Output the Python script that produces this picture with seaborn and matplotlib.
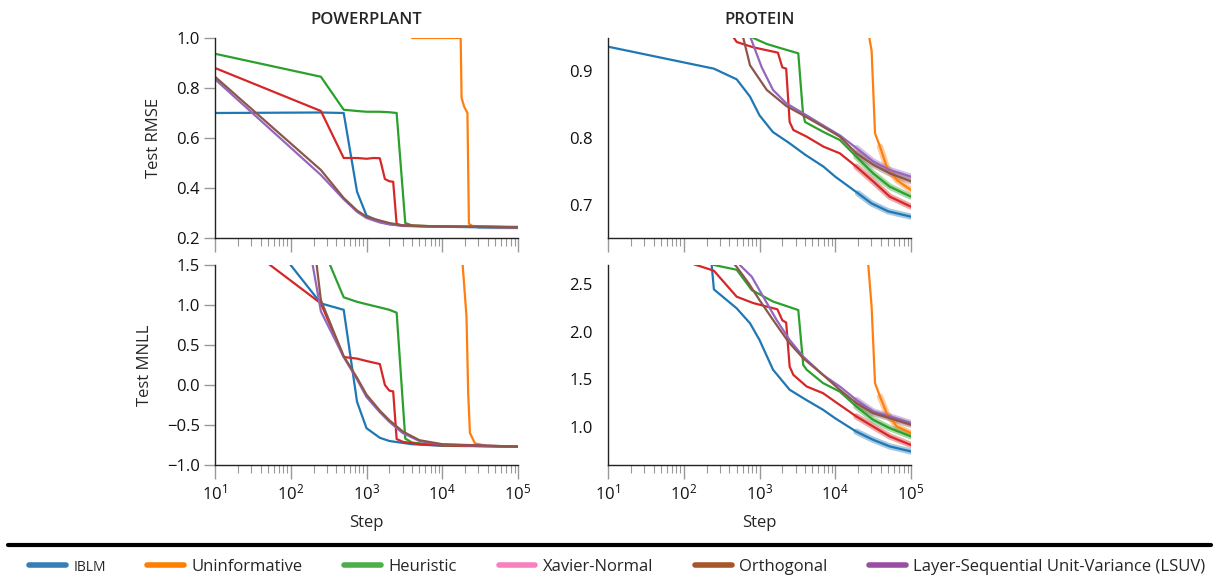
import numpy as np
import pandas as pd
import matplotlib.pyplot as plt
import seaborn as sns
from matplotlib.lines import Line2D

# Methods, in legend order
methods = ["IBLM", "Uninformative", "Heuristic", "Xavier-Normal", "Orthogonal",
           "Layer-Sequential Unit-Variance (LSUV)"]

# colours of the drawn curves (tab10) and of the legend swatches (Set1)
line_colors = {"IBLM": "#1f77b4", "Uninformative": "#ff7f0e", "Heuristic": "#2ca02c",
               "Xavier-Normal": "#d62728", "Orthogonal": "#8c564b",
               "Layer-Sequential Unit-Variance (LSUV)": "#9467bd"}
legend_colors = ["#377eb8", "#ff7f00", "#4daf4a", "#f781bf", "#a65628", "#984ea3"]
# draw order (later = on top)
draw_order = ["IBLM", "Uninformative", "Heuristic", "Xavier-Normal",
              "Layer-Sequential Unit-Variance (LSUV)", "Orthogonal"]

# ---------------- POWERPLANT, test RMSE ----------------
pp_rmse = {
    "IBLM": ([10, 250, 500, 750, 1000, 1500, 2000, 3000, 5000, 1e4, 3e4, 1e5],
             [0.70, 0.702, 0.70, 0.385, 0.29, 0.265, 0.255, 0.25, 0.247, 0.245, 0.243, 0.242]),
    "Uninformative": ([10, 3500, 4000, 17000, 17500, 18000, 19500, 21500, 22500, 25000, 1e5],
                      [1.3, 1.1, 1.0, 1.0, 1.0, 0.76, 0.725, 0.70, 0.257, 0.248, 0.244]),
    "Heuristic": ([10, 250, 500, 750, 1000, 1500, 2000, 2500, 3250, 4000, 1e4, 1e5],
                  [0.937, 0.845, 0.713, 0.708, 0.705, 0.705, 0.703, 0.70, 0.26, 0.25, 0.246, 0.243]),
    "Xavier-Normal": ([10, 250, 500, 750, 1000, 1250, 1500, 1750, 2000, 2250, 2500, 3000, 1e4, 1e5],
                      [0.88, 0.708, 0.52, 0.52, 0.517, 0.52, 0.519, 0.436, 0.427, 0.425, 0.256, 0.25, 0.246, 0.243]),
    "Orthogonal": ([10, 250, 500, 750, 1000, 1500, 2000, 3000, 1e4, 1e5],
                   [0.845, 0.472, 0.36, 0.31, 0.285, 0.27, 0.26, 0.25, 0.246, 0.243]),
    "Layer-Sequential Unit-Variance (LSUV)": ([10, 250, 500, 750, 1000, 1500, 2000, 3000, 1e4, 1e5],
                                              [0.835, 0.452, 0.355, 0.305, 0.28, 0.262, 0.255, 0.248, 0.245, 0.243]),
}

# ---------------- PROTEIN, test RMSE ----------------
pr_rmse = {
    "IBLM": ([10, 250, 500, 750, 1000, 1500, 2500, 4000, 7000, 1e4, 2e4, 3e4, 5e4, 1e5],
             [0.937, 0.904, 0.888, 0.862, 0.834, 0.809, 0.792, 0.775, 0.757, 0.742, 0.717, 0.702, 0.690, 0.682]),
    "Uninformative": ([10, 25000, 28200, 30200, 33500, 39000, 47700, 64700, 1e5],
                      [1.3, 1.1, 0.95, 0.931, 0.807, 0.787, 0.757, 0.737, 0.722]),
    "Heuristic": ([10, 250, 500, 830, 1250, 2000, 3250, 3750, 4000, 7000, 11500, 19000, 31600, 52500, 1e5],
                  [1.2, 1.05, 0.98, 0.95, 0.941, 0.934, 0.927, 0.837, 0.824, 0.809, 0.797, 0.772, 0.747, 0.727, 0.712]),
    "Xavier-Normal": ([10, 250, 460, 500, 830, 1750, 2000, 2250, 2500, 2800, 4200, 7000, 11500, 19000, 31600, 52500, 1e5],
                      [1.1, 0.99, 0.95, 0.944, 0.936, 0.928, 0.906, 0.904, 0.824, 0.812, 0.802, 0.787, 0.777, 0.757, 0.735, 0.712, 0.697]),
    "Orthogonal": ([10, 250, 611, 750, 1250, 2260, 3780, 6900, 11500, 19000, 31600, 52500, 1e5],
                   [1.2, 1.0, 0.95, 0.909, 0.872, 0.848, 0.834, 0.817, 0.802, 0.777, 0.760, 0.747, 0.735]),
    "Layer-Sequential Unit-Variance (LSUV)": ([10, 250, 765, 1070, 1510, 2260, 3780, 6900, 11500, 19000, 31600, 52500, 1e5],
                                              [1.2, 1.02, 0.95, 0.906, 0.872, 0.852, 0.837, 0.819, 0.804, 0.785, 0.765, 0.752, 0.742]),
}

# ---------------- POWERPLANT, test MNLL ----------------
pp_mnll = {
    "IBLM": ([10, 250, 500, 750, 1000, 1500, 2000, 4000, 1e4, 1e5],
             [2.7, 1.02, 0.94, -0.21, -0.54, -0.66, -0.70, -0.74, -0.76, -0.77]),
    "Uninformative": ([10, 17000, 18600, 20900, 22000, 23200, 27000, 38600, 1e5],
                      [5.0, 2.5, 1.5, 0.854, -0.10, -0.60, -0.73, -0.76, -0.77]),
    "Heuristic": ([10, 250, 500, 750, 1000, 1500, 2000, 2500, 3250, 4000, 1e4, 1e5],
                  [3.0, 1.77, 1.096, 1.04, 1.01, 0.97, 0.94, 0.904, -0.67, -0.72, -0.755, -0.77]),
    "Xavier-Normal": ([10, 250, 500, 750, 1000, 1500, 1750, 2000, 2250, 2500, 3000, 5000, 1e4, 1e5],
                      [2.02, 1.02, 0.35, 0.33, 0.30, 0.262, 0.0, -0.07, -0.08, -0.675, -0.71, -0.74, -0.755, -0.77]),
    "Orthogonal": ([10, 250, 500, 750, 1000, 1500, 2000, 3000, 5000, 1e4, 1e5],
                   [12.1, 1.06, 0.36, 0.09, -0.12, -0.32, -0.44, -0.58, -0.69, -0.74, -0.77]),
    "Layer-Sequential Unit-Variance (LSUV)": ([10, 250, 500, 750, 1000, 1500, 2000, 3000, 5000, 1e4, 1e5],
                                              [8.4, 0.92, 0.35, 0.07, -0.15, -0.34, -0.46, -0.60, -0.70, -0.745, -0.77]),
}

# ---------------- PROTEIN, test MNLL ----------------
pr_mnll = {
    "IBLM": ([10, 250, 500, 750, 1000, 1510, 2500, 4200, 6900, 1e4, 19000, 31600, 52500, 1e5],
             [14.7, 2.444, 2.245, 2.088, 1.913, 1.60, 1.39, 1.28, 1.18, 1.09, 0.95, 0.865, 0.795, 0.742]),
    "Uninformative": ([10, 25000, 27300, 30200, 33500, 39000, 47700, 64700, 1e5],
                      [10.0, 3.2, 2.7, 2.262, 1.46, 1.318, 1.145, 1.005, 0.935]),
    "Heuristic": ([10, 250, 500, 790, 1510, 3250, 3780, 4200, 6900, 11500, 19000, 31600, 52500, 1e5],
                  [3.2, 2.70, 2.65, 2.437, 2.316, 2.227, 1.65, 1.60, 1.46, 1.37, 1.214, 1.075, 0.987, 0.90]),
    "Xavier-Normal": ([10, 250, 500, 830, 1720, 2000, 2250, 2500, 2800, 4200, 6900, 11500, 19000, 31600, 52500, 1e5],
                      [3.0, 2.64, 2.367, 2.30, 2.235, 2.12, 2.095, 1.633, 1.546, 1.424, 1.354, 1.23, 1.11, 1.004, 0.90, 0.81]),
    "Orthogonal": ([10, 250, 500, 711, 1000, 1510, 2400, 3780, 6900, 11500, 19000, 31600, 52500, 1e5],
                   [4.0, 2.95, 2.68, 2.514, 2.332, 2.123, 1.895, 1.72, 1.546, 1.389, 1.25, 1.145, 1.092, 1.022]),
    "Layer-Sequential Unit-Variance (LSUV)": ([10, 250, 550, 790, 1120, 1680, 2500, 3780, 6900, 11500, 19000, 31600, 52500, 1e5],
                                              [4.5, 3.1, 2.7, 2.577, 2.367, 2.123, 1.913, 1.738, 1.546, 1.424, 1.284, 1.162, 1.11, 1.04]),
}

# step from which each curve turns visibly noisy (drawn thicker)
tail_start = {"IBLM": 19000, "Uninformative": 39000, "Heuristic": 19000,
              "Xavier-Normal": 19000, "Orthogonal": 19000,
              "Layer-Sequential Unit-Variance (LSUV)": 19000}


def to_frame(d):
    rows = []
    for m, (steps, vals) in d.items():
        for s, v in zip(steps, vals):
            rows.append({"Step": s, "value": v, "method": m})
    return pd.DataFrame(rows)


sns.set_theme(style="ticks")
plt.rcParams['font.family'] = ['Open Sans', 'DejaVu Sans']
plt.rcParams['axes.edgecolor'] = '#222222'
plt.rcParams['xtick.color'] = '#999999'
plt.rcParams['ytick.color'] = '#999999'
plt.rcParams['xtick.labelcolor'] = '#111111'
plt.rcParams['ytick.labelcolor'] = '#111111'

W, H = 1219, 585
fig = plt.figure(figsize=(W / 100, H / 100), dpi=100)

def px_axes(x0, y0, x1, y1):
    return fig.add_axes([x0 / W, 1 - y1 / H, (x1 - x0) / W, (y1 - y0) / H])

ax_tl = px_axes(215, 38, 518, 238)
ax_tr = px_axes(608, 38, 911, 238)
ax_bl = px_axes(215, 265, 518, 465)
ax_br = px_axes(608, 265, 911, 465)

# (axes, data, y-limits, y-ticks, width of the noisy tail)
panels = [
    (ax_tl, pp_rmse, (0.2, 1.0), [0.2, 0.4, 0.6, 0.8, 1.0], 2.6),
    (ax_tr, pr_rmse, (0.65, 0.95), [0.7, 0.8, 0.9], 4.5),
    (ax_bl, pp_mnll, (-1.0, 1.5), [-1.0, -0.5, 0.0, 0.5, 1.0, 1.5], 2.6),
    (ax_br, pr_mnll, (0.6, 2.7), [1.0, 1.5, 2.0, 2.5], 4.5),
]

for ax, d, ylim, yticks, tail_lw in panels:
    df = to_frame(d)
    # noisy late-training section shown as a thicker, translucent stroke
    tail = df[df["Step"] >= df["method"].map(tail_start)]
    sns.lineplot(data=tail, x="Step", y="value", hue="method", hue_order=draw_order,
                 palette=line_colors, estimator=None, sort=False, linewidth=tail_lw,
                 alpha=0.4, legend=False, ax=ax)
    sns.lineplot(data=df, x="Step", y="value", hue="method", hue_order=draw_order,
                 palette=line_colors, estimator=None, sort=False, linewidth=1.6,
                 legend=False, ax=ax)
    ax.set_xscale("log")
    ax.set_xlim(10, 1e5)
    ax.set_ylim(*ylim)
    ax.set_yticks(yticks)
    ax.set_yticklabels([f"{t:.1f}".replace("-", "\u2212") for t in yticks])
    sns.despine(ax=ax)
    ax.spines["left"].set_linewidth(1.0)
    ax.spines["bottom"].set_linewidth(1.0)
    ax.tick_params(axis="y", length=8, width=1, labelsize=12, pad=3)
    ax.tick_params(axis="x", which="major", length=10, width=1, labelsize=12)
    ax.tick_params(axis="x", which="minor", length=6, width=0.8)
    ax.set_xlabel("")
    ax.set_ylabel("")

for ax in (ax_tr, ax_br):
    ax.tick_params(axis="y", color="none")
for ax in (ax_tl, ax_tr):
    ax.tick_params(axis="x", which="both", labelbottom=False)

ax_tl.set_title("POWERPLANT", fontsize=12, fontweight="semibold", pad=10)
ax_tr.set_title("PROTEIN", fontsize=12, fontweight="semibold", pad=10)
ax_tl.set_ylabel("Test RMSE", fontsize=12, labelpad=10)
ax_bl.set_ylabel("Test MNLL", fontsize=12, labelpad=10)
ax_bl.set_xlabel("Step", fontsize=12, labelpad=8)
ax_br.set_xlabel("Step", fontsize=12, labelpad=8)

# separator line above legend
fig.add_artist(Line2D([8 / W, 1211 / W], [1 - 545 / H, 1 - 545 / H],
                      color="black", linewidth=3, transform=fig.transFigure))

handles = [Line2D([], [], color=c, linewidth=4) for c in legend_colors]
leg = fig.legend(handles, methods, loc="center left", bbox_to_anchor=(29 / W, 1 - 567 / H),
                 ncol=6, frameon=False, fontsize=12, handlelength=2.2,
                 columnspacing=2.5, handletextpad=0.45, borderaxespad=0, borderpad=0)
leg.get_texts()[0].set_fontsize(10)

fig.savefig("out.png", dpi=100)
